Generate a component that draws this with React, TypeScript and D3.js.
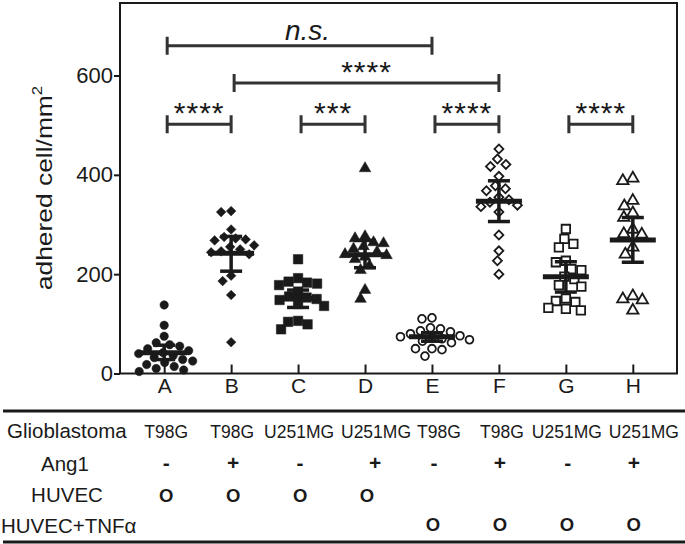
import React, { useEffect, useRef } from 'react';
import * as d3 from 'd3';

const categories = ['A', 'B', 'C', 'D', 'E', 'F', 'G', 'H'];
const glioblastoma = ['T98G', 'T98G', 'U251MG', 'U251MG', 'T98G', 'T98G', 'U251MG', 'U251MG'];
const ang1 = ['-', '+', '-', '+', '-', '+', '-', '+'];
const huvec = ['O', 'O', 'O', 'O', '', '', '', ''];
const huvecTnf = ['', '', '', '', 'O', 'O', 'O', 'O'];
const yTicks = [0, 200, 400, 600];

// adhered cells / mm2, one array per condition
const valuesA = [138, 97, 75, 62, 58, 55, 50, 46, 42, 40, 36, 32, 28, 25, 22, 18, 14, 10, 7, 4];
const valuesB = [327, 325, 290, 275, 272, 270, 268, 258, 255, 250, 246, 244, 240, 197, 186, 158, 63];
const valuesC = [230, 192, 185, 183, 181, 178, 165, 155, 153, 150, 148, 140, 136, 106, 104, 99, 89];
const valuesD = [413, 276, 272, 264, 262, 256, 251, 245, 240, 238, 235, 230, 217, 208, 168, 150];
const valuesE = [112, 110, 92, 90, 86, 84, 80, 76, 74, 72, 70, 68, 65, 62, 50, 50, 48, 35];
const valuesF = [452, 432, 421, 417, 397, 378, 372, 368, 355, 350, 345, 339, 336, 325, 279, 247, 227, 200];
const valuesG = [291, 271, 261, 254, 227, 224, 210, 208, 195, 190, 178, 175, 151, 146, 144, 132, 130, 127];
const valuesH = [393, 388, 348, 337, 323, 314, 290, 281, 280, 254, 240, 156, 150, 148, 127];

const means = [42, 242, 151, 239, 74, 347, 195, 269];
const errLow = [28, 206, 133, 213, 65, 306, 164, 224];
const errHigh = [57, 276, 168, 268, 82, 388, 225, 314];

const brackets = [
    { from: 'A', to: 'E', at: 660, label: 'n.s.' },
    { from: 'B', to: 'F', at: 585, label: '****' },
    { from: 'A', to: 'B', at: 502, label: '****' },
    { from: 'C', to: 'D', at: 502, label: '***' },
    { from: 'E', to: 'F', at: 502, label: '****' },
    { from: 'G', to: 'H', at: 502, label: '****' },
];

const groups = [valuesA, valuesB, valuesC, valuesD, valuesE, valuesF, valuesG, valuesH];

const markers = [
    { type: d3.symbolCircle, size: 56, filled: true, rot: 0 },
    { type: d3.symbolSquare, size: 46, filled: true, rot: 45 },
    { type: d3.symbolSquare, size: 90, filled: true, rot: 0 },
    { type: d3.symbolTriangle, size: 58, filled: true, rot: 0 },
    { type: d3.symbolCircle, size: 48, filled: false, rot: 0 },
    { type: d3.symbolSquare, size: 40, filled: false, rot: 45 },
    { type: d3.symbolSquare, size: 72, filled: false, rot: 0 },
    { type: d3.symbolTriangle, size: 56, filled: false, rot: 0 },
];

// simple beeswarm: nearest free horizontal offset for each point
function swarm(pys: number[], diam: number) {
    const order = pys.map((py, i) => i).sort((a, b) => pys[a] - pys[b]);
    const placed: { x: number; y: number }[] = [];
    const offs = new Array(pys.length).fill(0);
    order.forEach((i) => {
        for (let k = 0; k < 400; k++) {
            const dx = (k % 2 === 0 ? 1 : -1) * Math.ceil(k / 2) * 0.5;
            const ok = placed.every((p) => (p.x - dx) ** 2 + (p.y - pys[i]) ** 2 >= diam * diam);
            if (ok) {
                offs[i] = dx;
                placed.push({ x: dx, y: pys[i] });
                break;
            }
        }
    });
    return offs;
}

const App = () => {
    const ref = useRef<SVGSVGElement>(null);

    useEffect(() => {
        document.body.style.margin = '0';
        const svg = d3.select(ref.current);
        svg.selectAll('*').remove();

        const left = 120, right = 677, top = 3, bottom = 373.5;
        const ink = '#1a1a1a';

        const x = d3.scalePoint<string>().domain(categories).range([left, right]).padding(0.66);
        const y = d3.scaleLinear().domain([0, 746]).range([bottom, top]);

        // frame
        svg.append('rect')
            .attr('x', left).attr('y', top)
            .attr('width', right - left).attr('height', bottom - top)
            .attr('fill', 'none').attr('stroke', ink).attr('stroke-width', 2);

        // y axis
        const yAxis = svg.append('g')
            .attr('transform', `translate(${left},0)`)
            .call(d3.axisLeft(y).tickValues(yTicks).tickSize(6).tickPadding(1).tickFormat(d3.format('d')));
        yAxis.select('.domain').remove();
        yAxis.selectAll('line').attr('stroke', ink).attr('stroke-width', 2);
        yAxis.selectAll('text')
            .attr('font-size', 22).attr('font-family', '"Liberation Sans", Arial, sans-serif').attr('fill', ink);

        // x axis, ticks pointing in
        const xAxis = svg.append('g')
            .attr('transform', `translate(0,${bottom})`)
            .call(d3.axisBottom(x).tickSize(-9).tickPadding(5));
        xAxis.select('.domain').remove();
        xAxis.selectAll('line').attr('stroke', ink).attr('stroke-width', 2);
        xAxis.selectAll('text')
            .attr('font-size', 21).attr('font-family', '"Liberation Sans", Arial, sans-serif').attr('fill', ink);

        // y label
        const yl = svg.append('text')
            .attr('transform', 'translate(52,188) rotate(-90) scale(1.2,1)')
            .attr('text-anchor', 'middle')
            .attr('font-size', 22)
            .attr('fill', ink);
        yl.append('tspan').text('adhered cell/mm');
        yl.append('tspan').attr('font-size', 14).attr('dy', -10).text('2');

        // points
        groups.forEach((vals, gi) => {
            const cx = x(categories[gi]) as number;
            const m = markers[gi];
            const pys = vals.map((v) => y(v));
            const offs = swarm(pys, 10);
            const sym = d3.symbol().type(m.type).size(m.size);
            svg.append('g')
                .selectAll('path')
                .data(vals)
                .join('path')
                .attr('d', sym)
                .attr('transform', (d, i) => `translate(${cx + offs[i]},${pys[i]}) rotate(${m.rot})`)
                .attr('fill', m.filled ? ink : 'white')
                .attr('stroke', ink)
                .attr('stroke-width', m.filled ? 0.5 : 1.8);
        });

        // mean and error bars
        const eb = svg.append('g').attr('stroke', ink);
        categories.forEach((c, i) => {
            const cx = x(c) as number;
            eb.append('line').attr('x1', cx).attr('x2', cx)
                .attr('y1', y(errLow[i])).attr('y2', y(errHigh[i])).attr('stroke-width', 3.5);
            [errLow[i], errHigh[i]].forEach((v) => {
                eb.append('line').attr('x1', cx - 11).attr('x2', cx + 11)
                    .attr('y1', y(v)).attr('y2', y(v)).attr('stroke-width', 3.5);
            });
            eb.append('line').attr('x1', cx - 23).attr('x2', cx + 23)
                .attr('y1', y(means[i])).attr('y2', y(means[i])).attr('stroke-width', 5);
        });

        // significance brackets
        const bg = svg.append('g');
        brackets.forEach((b) => {
            const x1 = (x(b.from) as number) + 3;
            const x2 = x(b.to) as number;
            const by = y(b.at);
            bg.append('path')
                .attr('d', `M${x1},${by - 9}V${by + 9}M${x1},${by}H${x2}M${x2},${by - 9}V${by + 9}`)
                .attr('fill', 'none').attr('stroke', '#333').attr('stroke-width', 3);
            const ns = b.label === 'n.s.';
            bg.append('text')
                .attr('x', (x1 + x2) / 2 + (ns ? 8 : 0))
                .attr('y', ns ? by - 6 : by - 1)
                .attr('text-anchor', 'middle')
                .attr('font-size', ns ? 28 : 30)
                .attr('font-style', ns ? 'italic' : 'normal')
                .attr('letter-spacing', ns ? 0 : 1)
                .attr('fill', ink)
                .text(b.label);
        });

        // condition table
        const tbl = svg.append('g').attr('fill', ink);
        [411, 542].forEach((ly) => {
            tbl.append('line').attr('x1', 3).attr('x2', 685).attr('y1', ly).attr('y2', ly)
                .attr('stroke', ink).attr('stroke-width', 3);
        });
        const rowLabels = [
            { text: 'Glioblastoma', x: 7, y: 438, anchor: 'start' },
            { text: 'Ang1', x: 65, y: 471, anchor: 'middle' },
            { text: 'HUVEC', x: 67, y: 502, anchor: 'middle' },
            { text: 'HUVEC+TNFα', x: 1, y: 533, anchor: 'start' },
        ];
        rowLabels.forEach((r) => {
            tbl.append('text').attr('x', r.x).attr('y', r.y).attr('text-anchor', r.anchor)
                .attr('font-size', 20.5).text(r.text);
        });
        // the cell-line row is typed with uneven spacing in the original
        const glioNudge = [2, 1, 1, 11, 7, 3, 1, 11];
        const signNudge = [2, 2, 2, 10, 2, 1, 2, 1];
        const rows = [
            { vals: glioblastoma, y: 438, size: 17.5, weight: 'normal', nudge: glioNudge },
            { vals: ang1, y: 470, size: 21, weight: 'bold', nudge: signNudge },
            { vals: huvec, y: 502, size: 18.5, weight: 'bold', nudge: signNudge.map(() => 2) },
            { vals: huvecTnf, y: 531, size: 18.5, weight: 'bold', nudge: signNudge.map(() => 1) },
        ];
        rows.forEach((r) => {
            tbl.append('g').selectAll('text')
                .data(r.vals)
                .join('text')
                .attr('x', (d, i) => (x(categories[i]) as number) + r.nudge[i])
                .attr('y', r.y)
                .attr('text-anchor', 'middle')
                .attr('font-size', r.size)
                .attr('font-weight', r.weight)
                .text((d) => d);
        });
    }, []);

    return (
        <svg ref={ref} width={685} height={544}
            style={{ display: 'block', fontFamily: '"Liberation Sans", Arial, sans-serif' }} />
    );
};

export default App;
